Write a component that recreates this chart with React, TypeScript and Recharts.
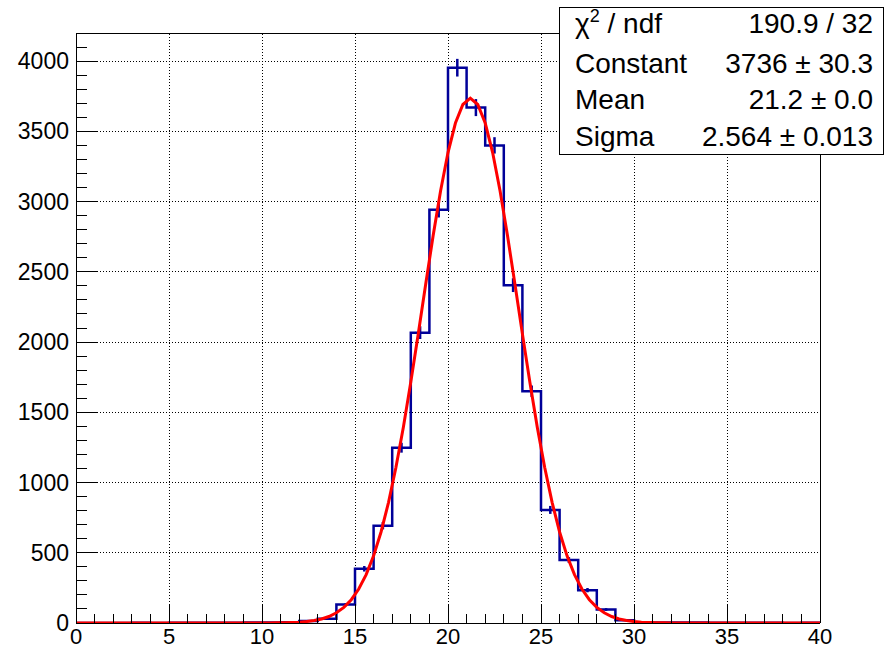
import { ComposedChart, Line, XAxis, YAxis, ReferenceLine, ErrorBar } from 'recharts';

// histogram: 40 bins of width 1 on [0, 40]
const binEdges = [
  0, 1, 2, 3, 4, 5, 6, 7, 8, 9, 10, 11, 12, 13, 14, 15, 16, 17, 18, 19, 20,
  21, 22, 23, 24, 25, 26, 27, 28, 29, 30, 31, 32, 33, 34, 35, 36, 37, 38, 39, 40,
];
const binCounts = [
  0, 0, 0, 1, 0, 1, 1, 1, 2, 3, 4, 6, 14, 30, 131, 386, 693, 1248, 2067, 2941,
  3953, 3669, 3400, 2405, 1650, 805, 448, 234, 96, 19, 5, 4, 3, 3, 1, 1, 1, 1, 0, 1,
];
const binErrors = [
  0, 0, 0, 1, 0, 1, 1, 1, 1.4, 1.7, 2, 2.4, 3.7, 5.5, 11.4, 19.6, 26.3, 35.3, 45.5, 54.2,
  62.9, 60.6, 58.3, 49.0, 40.6, 28.4, 21.2, 15.3, 9.8, 4.4, 2.2, 2, 1.7, 1.7, 1, 1, 1, 1, 0, 1,
];

// gaus fit curve
const fitX = [
  0, 9.6, 10.0, 10.4, 10.8, 11.2, 11.6, 12.0, 12.4, 12.8, 13.2, 13.6, 14.0, 14.4, 14.8,
  15.2, 15.6, 16.0, 16.4, 16.8, 17.2, 17.6, 18.0, 18.4, 18.8, 19.2, 19.6, 20.0, 20.4,
  20.8, 21.2, 21.6, 22.0, 22.4, 22.8, 23.2, 23.6, 24.0, 24.4, 24.8, 25.2, 25.6, 26.0,
  26.4, 26.8, 27.2, 27.6, 28.0, 28.4, 28.8, 29.2, 29.6, 30.0, 30.4, 30.8, 31.2, 31.6,
  32.0, 32.4, 40,
];
const fitY = [
  0, 0.1, 0.3, 0.5, 1.0, 1.9, 3.4, 6.0, 10.3, 17.5, 28.7, 46.2, 72.4, 111, 166,
  242, 344, 478, 648, 857, 1107, 1394, 1715, 2058, 2411, 2756, 3075, 3349, 3559,
  3691, 3736, 3691, 3559, 3349, 3075, 2756, 2411, 2058, 1715, 1394, 1107, 857, 648,
  478, 344, 242, 166, 111, 72.4, 46.2, 28.7, 17.5, 10.3, 6.0, 3.4, 1.9, 1.0,
  0.5, 0.3, 0,
];

const xTicks = [
  0, 1, 2, 3, 4, 5, 6, 7, 8, 9, 10, 11, 12, 13, 14, 15, 16, 17, 18, 19, 20,
  21, 22, 23, 24, 25, 26, 27, 28, 29, 30, 31, 32, 33, 34, 35, 36, 37, 38, 39, 40,
];
const yTicks = [
  0, 100, 200, 300, 400, 500, 600, 700, 800, 900, 1000, 1100, 1200, 1300, 1400,
  1500, 1600, 1700, 1800, 1900, 2000, 2100, 2200, 2300, 2400, 2500, 2600, 2700,
  2800, 2900, 3000, 3100, 3200, 3300, 3400, 3500, 3600, 3700, 3800, 3900, 4000, 4100,
];
const xGrid = [5, 10, 15, 20, 25, 30, 35];
const yGrid = [500, 1000, 1500, 2000, 2500, 3000, 3500, 4000];

const statLabels = ['χ2 / ndf', 'Constant', 'Mean', 'Sigma'];
const statValues = ['190.9 / 32', '3736 ± 30.3', '21.2 ± 0.0', '2.564 ± 0.013'];

const FONT = '"Liberation Sans", Arial, Helvetica, sans-serif';
const HIST = '#000099';
const FIT = '#ff0000';

const histData = binEdges.map((x, i) => ({
  x,
  n: binCounts[Math.min(i, binCounts.length - 1)],
}));
const errData = binCounts
  .map((n, i) => ({ x: binEdges[i] + 0.5, n, err: binErrors[i] }))
  .filter((d) => d.n > 0);
const fitData = fitX.map((x, i) => ({ x, f: fitY[i] }));

function YTick(props: any) {
  const { x, y, payload } = props;
  const major = payload.value % 500 === 0;
  return (
    <g>
      <line
        x1={x}
        y1={y}
        x2={x + (major ? 21 : 11)}
        y2={y}
        stroke="#000"
        strokeWidth={1}
        shapeRendering="crispEdges"
      />
      {major && (
        <text x={x - 7} y={y + 8} textAnchor="end" fontSize={23} fontFamily={FONT} fill="#000">
          {payload.value}
        </text>
      )}
    </g>
  );
}

function XTick(props: any) {
  const { x, y, payload } = props;
  const major = payload.value % 5 === 0;
  return (
    <g>
      <line
        x1={x}
        y1={y}
        x2={x}
        y2={y - (major ? 19 : 9)}
        stroke="#000"
        strokeWidth={1}
        shapeRendering="crispEdges"
      />
      {major && (
        <text x={x} y={y + 21} textAnchor="middle" fontSize={22} fontFamily={FONT} fill="#000">
          {payload.value}
        </text>
      )}
    </g>
  );
}

function StatsBox() {
  return (
    <div
      style={{
        position: 'absolute',
        left: 559,
        top: 7,
        width: 325,
        height: 148,
        boxSizing: 'border-box',
        border: '1px solid #000',
        background: '#fff',
        fontFamily: FONT,
        fontSize: 28,
        color: '#000',
      }}
    >
      {statLabels.map((label, i) => (
        <div
          key={label}
          style={{
            height: 36.5,
            lineHeight: '36.5px',
            display: 'flex',
            justifyContent: 'space-between',
            paddingLeft: 15,
            paddingRight: 10,
            whiteSpace: 'nowrap',
            position: 'relative',
            top: i === 0 ? -2 : 1,
          }}
        >
          <span>
            {i === 0 ? (
              <>
                χ<span style={{ fontSize: 18, position: 'relative', top: -11 }}>2</span> / ndf
              </>
            ) : (
              label
            )}
          </span>
          <span>{statValues[i]}</span>
        </div>
      ))}
    </div>
  );
}

export default function App() {
  return (
    <div style={{ position: 'absolute', left: 0, top: 0, width: 886, height: 649, background: '#fff' }}>
      <ComposedChart
        width={886}
        height={649}
        margin={{ top: 33, right: 66, bottom: 0, left: 0 }}
        style={{ overflow: 'visible' }}
      >
        <XAxis
          dataKey="x"
          type="number"
          domain={[0, 40]}
          ticks={xTicks}
          interval={0}
          height={26}
          tickSize={0}
          tickMargin={0}
          tickLine={false}
          tick={<XTick />}
          axisLine={{ stroke: '#000', strokeWidth: 1, shapeRendering: 'crispEdges' }}
          allowDataOverflow
        />
        <YAxis
          type="number"
          domain={[0, 4200]}
          ticks={yTicks}
          interval={0}
          width={76}
          tickSize={0}
          tickMargin={0}
          tickLine={false}
          tick={<YTick />}
          axisLine={{ stroke: '#000', strokeWidth: 1, shapeRendering: 'crispEdges' }}
          allowDataOverflow
        />
        {xGrid.map((v) => (
          <ReferenceLine
            key={'gx' + v}
            x={v}
            stroke="#000"
            strokeWidth={1}
            strokeDasharray="1 2"
            shapeRendering="crispEdges"
          />
        ))}
        {yGrid.map((v) => (
          <ReferenceLine
            key={'gy' + v}
            y={v}
            stroke="#000"
            strokeWidth={1}
            strokeDasharray="1 2"
            shapeRendering="crispEdges"
          />
        ))}
        <ReferenceLine y={4200} stroke="#000" strokeWidth={1} shapeRendering="crispEdges" />
        <ReferenceLine x={40} stroke="#000" strokeWidth={1} shapeRendering="crispEdges" />
        <Line
          data={histData}
          dataKey="n"
          type="stepAfter"
          stroke={HIST}
          strokeWidth={2.5}
          dot={false}
          isAnimationActive={false}
        />
        <Line
          data={errData}
          dataKey="n"
          stroke="none"
          dot={false}
          isAnimationActive={false}
        >
          <ErrorBar dataKey="err" direction="y" width={0} stroke={HIST} strokeWidth={2.5} isAnimationActive={false} />
        </Line>
        <Line
          data={fitData}
          dataKey="f"
          type="linear"
          stroke={FIT}
          strokeWidth={3}
          dot={false}
          isAnimationActive={false}
        />
      </ComposedChart>
      <StatsBox />
    </div>
  );
}
